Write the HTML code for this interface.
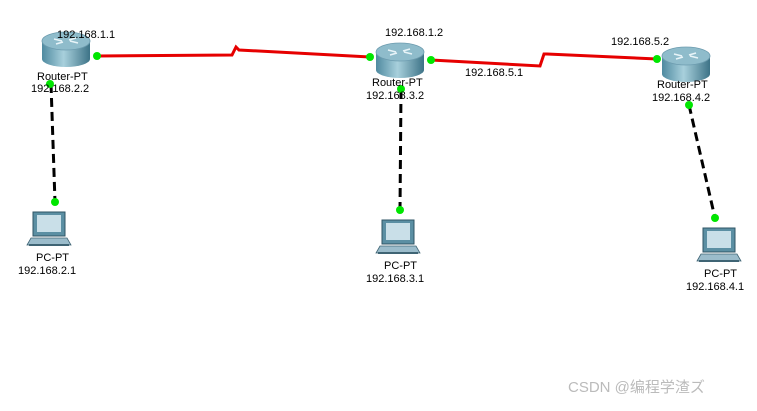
<!DOCTYPE html>
<html><head><meta charset="utf-8"><style>
body{margin:0;background:#fff;width:757px;height:406px;overflow:hidden}
svg text{font-family:"Liberation Sans","DejaVu Sans",sans-serif;font-size:11px;fill:#000}
</style></head><body>
<svg width="757" height="406" xmlns="http://www.w3.org/2000/svg">
<defs>
<linearGradient id="rb" x1="0" x2="1"><stop offset="0" stop-color="#4f8aa0"/><stop offset="0.45" stop-color="#a8d0dc"/><stop offset="1" stop-color="#3d7387"/></linearGradient>
<g id="router">
<path d="M-24,-7 L-24,11 A24,8 0 0 0 24,11 L24,-7 Z" fill="url(#rb)"/>
<ellipse cx="0" cy="-7" rx="24" ry="9" fill="#8fbccb" stroke="#6d9caf" stroke-width="0.8"/>
<path d="M-12,-9 L-4,-7 M12,-5 L4,-7 M-10,-4 L-3,-6 M10,-10 L3,-8" stroke="#e8f4f8" stroke-width="1.5"/>
</g>
<g id="pc">
<rect x="-16" y="-18" width="32" height="24" fill="#5b8fa3" stroke="#2f5566"/>
<rect x="-12" y="-15" width="24" height="17" fill="#c9dfe8"/>
<path d="M-18,8 L18,8 L22,15 L-22,15 Z" fill="#9bbccb" stroke="#3f6474" stroke-width="0.8"/>
<path d="M-20,15 L20,15" stroke="#3f6474" stroke-width="2"/>
</g>
</defs>
<g fill="none" stroke="#e60000" stroke-width="3">
<polyline points="97,56 232,55 236,47 239,50 370,57"/>
<polyline points="431,60 540,66 544,54 547,54 657,59"/>
</g>
<g stroke="#000" stroke-width="3" stroke-dasharray="9,5">
<line x1="51" y1="84" x2="55" y2="202"/>
<line x1="401" y1="90" x2="400" y2="210"/>
<line x1="689" y1="105" x2="715" y2="218"/>
</g>
<use href="#router" x="66" y="48"/>
<use href="#router" x="400" y="59"/>
<use href="#router" x="686" y="63"/>
<use href="#pc" x="49" y="230"/>
<use href="#pc" x="398" y="238"/>
<use href="#pc" x="719" y="246"/>
<g fill="#00e600">
<circle cx="97" cy="56" r="4"/><circle cx="50" cy="84" r="4"/><circle cx="55" cy="202" r="4"/>
<circle cx="370" cy="57" r="4"/><circle cx="431" cy="60" r="4"/><circle cx="401" cy="89" r="4"/><circle cx="400" cy="210" r="4"/>
<circle cx="657" cy="59" r="4"/><circle cx="689" cy="105" r="4"/><circle cx="715" cy="218" r="4"/>
</g>
<text x="57" y="38">192.168.1.1</text>
<text x="37" y="80">Router-PT</text>
<text x="31" y="92">192.168.2.2</text>
<text x="385" y="36">192.168.1.2</text>
<text x="372" y="86">Router-PT</text>
<text x="366" y="99">192.168.3.2</text>
<text x="465" y="76">192.168.5.1</text>
<text x="611" y="45">192.168.5.2</text>
<text x="657" y="88">Router-PT</text>
<text x="652" y="101">192.168.4.2</text>
<text x="36" y="261">PC-PT</text>
<text x="18" y="274">192.168.2.1</text>
<text x="384" y="269">PC-PT</text>
<text x="366" y="282">192.168.3.1</text>
<text x="704" y="277">PC-PT</text>
<text x="686" y="290">192.168.4.1</text>
<text x="568" y="392" style="font-size:15px;fill:#bbb;font-family:'Liberation Sans','Noto Sans CJK SC',sans-serif">CSDN @编程学渣ズ</text>
</svg>
</body></html>
